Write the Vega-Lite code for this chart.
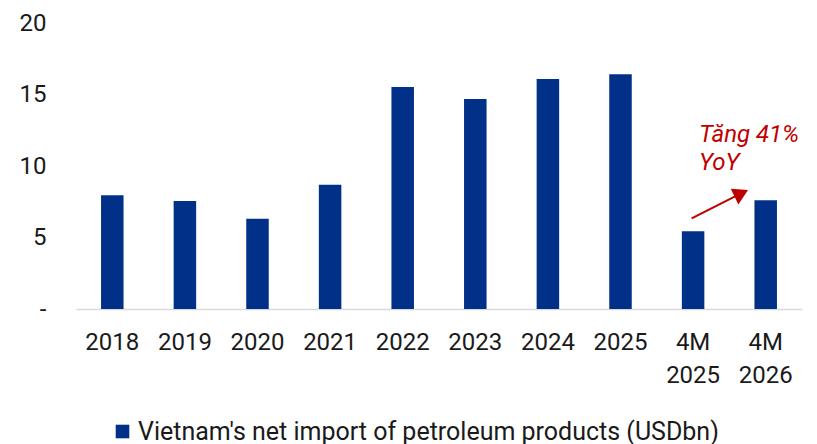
{
  "$schema": "https://vega.github.io/schema/vega-lite/v6.json",
  "width": 726,
  "height": 286,
  "autosize": {"type": "none"},
  "padding": {"left": 76, "top": 23, "right": 15, "bottom": 135},
  "background": "white",
  "config": {
    "view": {"stroke": null},
    "font": "Roboto",
    "axis": {"labelFont": "Roboto", "labelFontSize": 24, "labelColor": "#1a1a1a", "ticks": false, "tickSize": 0, "grid": false, "title": null},
    "legend": {"labelFont": "Roboto", "labelFontSize": 25, "labelColor": "#1a1a1a"}
  },
  "datasets": {
    "bars": [
      {"period": "2018", "value": 7.95, "series": "Vietnam's net import of petroleum products (USDbn)"},
      {"period": "2019", "value": 7.55, "series": "Vietnam's net import of petroleum products (USDbn)"},
      {"period": "2020", "value": 6.31, "series": "Vietnam's net import of petroleum products (USDbn)"},
      {"period": "2021", "value": 8.69, "series": "Vietnam's net import of petroleum products (USDbn)"},
      {"period": "2022", "value": 15.52, "series": "Vietnam's net import of petroleum products (USDbn)"},
      {"period": "2023", "value": 14.69, "series": "Vietnam's net import of petroleum products (USDbn)"},
      {"period": "2024", "value": 16.08, "series": "Vietnam's net import of petroleum products (USDbn)"},
      {"period": "2025", "value": 16.41, "series": "Vietnam's net import of petroleum products (USDbn)"},
      {"period": "4M 2025", "value": 5.43, "series": "Vietnam's net import of petroleum products (USDbn)"},
      {"period": "4M 2026", "value": 7.6, "series": "Vietnam's net import of petroleum products (USDbn)"}
    ],
    "arrow": [
      {"ax": 8.48, "ay": 6.34, "ax2": 9.12, "ay2": 7.98}
    ],
    "head": [
      {"ax": 9.164, "ay": 8.09}
    ],
    "note": [
      {"ax": 8.58, "ay": 11.71, "label": "Tăng 41%|YoY"}
    ]
  },
  "layer": [
    {
      "data": {"name": "bars"},
      "mark": {"type": "bar"},
      "encoding": {
        "x": {
          "field": "period", "type": "nominal", "sort": null,
          "scale": {"paddingInner": 0.69, "paddingOuter": 0.345},
          "axis": {"labelAngle": 0, "labelPadding": 21, "labelBaseline": "top", "labelLineHeight": 33,
                   "labelExpr": "split(datum.label, ' ')", "domainColor": "#d9d9d9", "domainWidth": 1.7}
        },
        "y": {
          "field": "value", "type": "quantitative",
          "scale": {"domain": [0, 20], "nice": false},
          "axis": {"values": [0, 5, 10, 15, 20], "domain": false, "labelPadding": 30,
                   "labelExpr": "datum.value == 0 ? '-' : datum.label"}
        },
        "color": {
          "field": "series", "type": "nominal",
          "scale": {"range": ["#003087"]},
          "legend": {"title": null, "orient": "none", "legendX": 34, "legendY": 396,
                     "symbolType": "square", "symbolSize": 185, "labelOffset": 3, "direction": "horizontal", "labelLimit": 800}
        }
      }
    },
    {
      "data": {"name": "arrow"},
      "mark": {"type": "rule", "color": "#c00000", "strokeWidth": 2},
      "encoding": {
        "x": {"field": "ax", "type": "quantitative", "scale": {"domain": [0, 10], "nice": false, "zero": false}, "axis": null},
        "x2": {"field": "ax2"},
        "y": {"field": "ay", "type": "quantitative", "scale": {"domain": [0, 20], "nice": false}},
        "y2": {"field": "ay2"}
      }
    },
    {
      "data": {"name": "head"},
      "mark": {"type": "point", "shape": "triangle-right", "filled": true, "color": "#c00000", "opacity": 1, "size": 300, "angle": 334},
      "encoding": {
        "x": {"field": "ax", "type": "quantitative", "scale": {"domain": [0, 10], "nice": false, "zero": false}, "axis": null},
        "y": {"field": "ay", "type": "quantitative", "scale": {"domain": [0, 20], "nice": false}}
      }
    },
    {
      "data": {"name": "note"},
      "mark": {"type": "text", "align": "left", "baseline": "alphabetic", "font": "Roboto", "fontStyle": "italic", "fontSize": 24, "color": "#c00000", "lineBreak": "|", "lineHeight": 28.5},
      "encoding": {
        "x": {"field": "ax", "type": "quantitative", "scale": {"domain": [0, 10], "nice": false, "zero": false}, "axis": null},
        "y": {"field": "ay", "type": "quantitative", "scale": {"domain": [0, 20], "nice": false}},
        "text": {"field": "label"}
      }
    }
  ],
  "resolve": {"scale": {"x": "independent"}}
}
